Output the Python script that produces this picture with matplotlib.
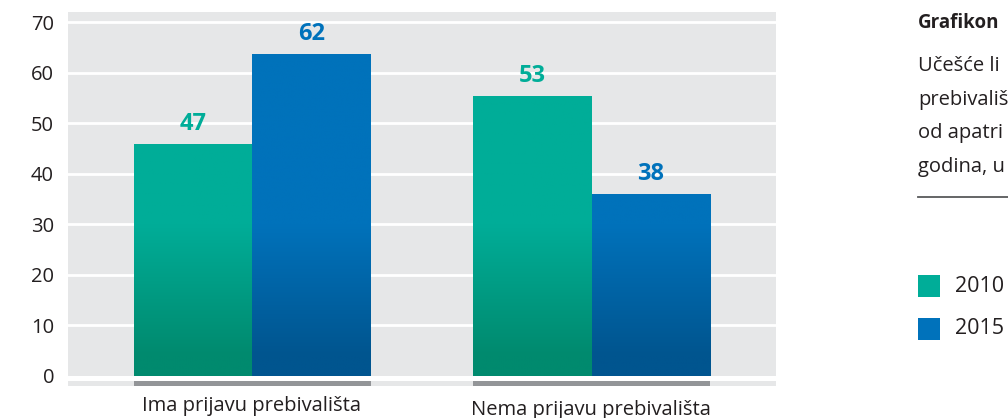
import numpy as np
import matplotlib
matplotlib.use("Agg")
import matplotlib.pyplot as plt
from matplotlib.colors import LinearSegmentedColormap

plt.rcParams['font.family'] = ['Open Sans', 'DejaVu Sans']

# Data
categories = ['Ima prijavu prebivališta', 'Nema prijavu prebivališta']
years = ['2010', '2015']
labels_2010 = [47, 53]
labels_2015 = [62, 38]
# bar heights as drawn in the original graphic
heights_2010 = [45.9, 55.4]
heights_2015 = [63.6, 36.0]
yticks = [0, 10, 20, 30, 40, 50, 60, 70]

title = 'Grafikon'
# the caption is cut by the right edge of the original image
subtitle = ['Učešće li', 'prebivališ', 'od apatri', 'godina, u']

GREEN_TOP, GREEN_BOT = '#00ad98', '#008a6e'
BLUE_TOP, BLUE_BOT = '#0072bb', '#00558f'
BG = '#e6e7e8'
TXT = '#231f20'

fig = plt.figure(figsize=(10.08, 4.18), dpi=100)
ax = fig.add_axes([68 / 1008, 1 - 386 / 418, (776 - 68) / 1008, (386 - 12) / 418])
ax.set_facecolor(BG)

for t in yticks[1:]:
    ax.axhline(t, color='white', lw=2.0, zorder=1)
ax.axhspan(-1, 0, color='white', lw=0, zorder=1)

x = np.arange(len(categories))
w = 0.35

# gray base strip under each group
ax.bar(x, 1, width=2 * w, bottom=-2, color='#939598', lw=0, zorder=2)


def grad_bars(xs, hs, top, bot):
    bars = ax.bar(xs, hs, width=w, color=top, lw=0, zorder=3)
    cmap = LinearSegmentedColormap.from_list('g', [bot, top])
    yy = np.linspace(0, 72, 400)
    vals = np.clip((yy - 4) / 26, 0, 1)[:, None]
    for b in bars:
        im = ax.imshow(vals, cmap=cmap, vmin=0, vmax=1, aspect='auto',
                       origin='lower', extent=(b.get_x(), b.get_x() + b.get_width(), 0, 72),
                       zorder=4, interpolation='bilinear')
        im.set_clip_path(b)
    return bars


grad_bars(x - w / 2, heights_2010, GREEN_TOP, GREEN_BOT)
grad_bars(x + w / 2, heights_2015, BLUE_TOP, BLUE_BOT)
ax.set_xlim(-0.544, 1.544)
ax.set_ylim(-2, 72)

for i in range(len(categories)):
    ax.text(x[i] - w / 2, heights_2010[i] + 4, str(labels_2010[i]), ha='center', va='center',
            fontsize=17, fontweight='bold', color=GREEN_TOP, zorder=5)
    ax.text(x[i] + w / 2, heights_2015[i] + 4, str(labels_2015[i]), ha='center', va='center',
            fontsize=17, fontweight='bold', color=BLUE_TOP, zorder=5)

ax.set_yticks(yticks)
ax.set_yticklabels([str(t) for t in yticks], fontsize=14.5, color=TXT)
ax.tick_params(axis='y', length=0, pad=10)
ax.set_xticks([])
for s in ax.spines.values():
    s.set_visible(False)

# category labels
fig.text(252 / 1008, 1 - 406 / 418, categories[0], ha='center', va='center', fontsize=14.5, color=TXT)
fig.text(591 / 1008, 1 - 410 / 418, categories[1], ha='center', va='center', fontsize=14.5, color=TXT)

# right-hand panel
fig.text(918 / 1008, 1 - 23 / 418, title, ha='left', va='center', fontsize=13.5,
         fontweight='bold', color=TXT)
for k, line in enumerate(subtitle):
    fig.text(918 / 1008, 1 - (66 + 33.7 * k) / 418, line, ha='left', va='center',
             fontsize=14.5, color=TXT)
fig.add_artist(plt.Line2D([918 / 1008, 1.0], [1 - 197 / 418] * 2, color='#58595b', lw=1.3))

leg_colors = [GREEN_TOP, BLUE_TOP]
for k, (yr, c) in enumerate(zip(years, leg_colors)):
    yc = 286 + 43 * k
    fig.patches.append(plt.Rectangle((918 / 1008, 1 - (yc + 11) / 418), 22 / 1008, 22 / 418,
                                     transform=fig.transFigure, color=c, lw=0))
    fig.text(955 / 1008, 1 - yc / 418, yr, ha='left', va='center', fontsize=15.5, color=TXT)

fig.savefig('out.png', dpi=100)
